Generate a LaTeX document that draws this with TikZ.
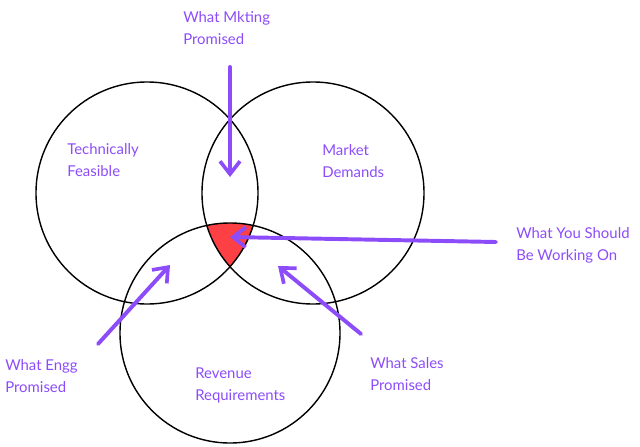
\documentclass[tikz,border=0pt]{standalone}
\usepackage{fontspec}
\setmainfont{Lato}
\usetikzlibrary{arrows.meta, positioning}

\definecolor{lilac}{RGB}{140,76,250}
\definecolor{hotred}{RGB}{252,64,68}

\begin{document}
\begin{tikzpicture}[
        x = 0.025cm, y = -0.025cm,
        ring/.style    = {circle, draw, line width=1pt, minimum size=5.55cm, inner sep=0pt},
        hand/.style    = {anchor=north west, inner sep=0pt, align=left, text=lilac,
                          font=\fontsize{10.6}{15.6}\selectfont},
        pointer/.style = {draw=lilac, line width=2.8pt, line cap=round,
                          -{Straight Barb[length=3.2mm, width=5mm, line width=2.6pt]}}
    ]
        \useasboundingbox (0,0) rectangle (640,447);

        % overlap of all three
        \begin{scope}
            \clip (147,193) circle[radius=111];
            \clip (313,193) circle[radius=111];
            \fill[hotred] (230,333) circle[radius=110];
        \end{scope}

        % circles
        \node [ring] (tech)    at (147,193) {};
        \node [ring] (market)  at (313,193) {};
        \node [ring, minimum size=5.5cm] (revenue) at (230,333) {};

        % texts
        \node [hand] (techtext)    at (67,143)  {Technically\\Feasible};
        \node [hand] (markettext)  at (322,144) {Market\\Demands};
        \node [hand] (revenuetext) at (195,368) {Revenue\\Requirements};
        \node [hand] (mkting)      at (183,11)  {What Mkting\\Promised};
        \node [hand] (engg)        at (5,359)   {What Engg\\Promised};
        \node [hand] (sales)       at (370,357) {What Sales\\Promised};
        \node [hand] (focus)       at (516,227) {What You Should\\Be Working On};

        % arrow ends
        \coordinate (mkting tail) at (230,67);
        \coordinate (mkting head) at (230,177);
        \coordinate (focus tail)  at (496,242);
        \coordinate (focus head)  at (230,237);
        \coordinate (engg tail)   at (98,344);
        \coordinate (engg head)   at (170,265);
        \coordinate (sales tail)  at (361,334);
        \coordinate (sales head)  at (278,266);

        % arrows
        \path [pointer] (mkting tail) -- (mkting head);
        \path [pointer] (focus tail)  -- (focus head);
        \path [pointer] (engg tail)   -- (engg head);
        \path [pointer] (sales tail)  -- (sales head);
    \end{tikzpicture}
\end{document}
